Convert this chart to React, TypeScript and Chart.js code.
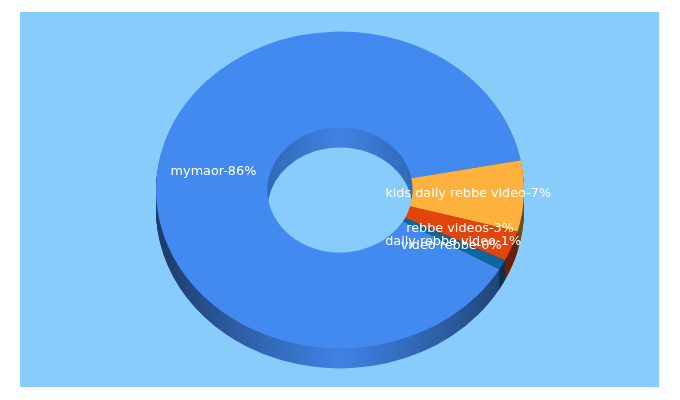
import { useEffect, useRef } from "react"
import { Chart, registerables, type Plugin } from "chart.js"

Chart.register(...registerables)

const labels = ["mymaor", "kids daily rebbe video", "rebbe videos", "daily rebbe video", "video rebbe"]
const shares = [86, 7, 3, 1, 0]
const colors = ["#4289f0", "#ffb13d", "#e2450b", "#0d669c", "#4289f0"]

const squash = 0.861
const depth = 20
// walls are stacked from the upper slices down, the big slice goes last
const wallOrder = [1, 2, 3, 4, 0]

function shade(hex: string, f: number) {
  const n = parseInt(hex.slice(1), 16)
  const c = (v: number) => Math.round(v * f)
  return `rgb(${c((n >> 16) & 255)},${c((n >> 8) & 255)},${c(n & 255)})`
}

// tilts the doughnut and stacks copies of each arc under it for the side wall
const tiltPlugin: Plugin<"doughnut"> = {
  id: "tilt",
  beforeDatasetsDraw(chart) {
    const ctx = chart.ctx
    const arcs = chart.getDatasetMeta(0).data as any[]
    const first = arcs[0]
    const left = first.x - first.outerRadius
    const right = first.x + first.outerRadius
    wallOrder.forEach((i) => {
      const arc = arcs[i]
      const grad = ctx.createLinearGradient(left, 0, right, 0)
      grad.addColorStop(0, shade(colors[i], 0.42))
      grad.addColorStop(0.2, shade(colors[i], 0.66))
      grad.addColorStop(0.32, shade(colors[i], 0.78))
      grad.addColorStop(0.5, shade(colors[i], 0.95))
      grad.addColorStop(0.68, shade(colors[i], 0.78))
      grad.addColorStop(0.8, shade(colors[i], 0.66))
      grad.addColorStop(1, shade(colors[i], 0.42))
      const baseOptions = arc.options
      arc.options = { ...baseOptions, backgroundColor: grad, borderWidth: 0 }
      for (let d = depth; d > 0; d--) {
        ctx.save()
        ctx.translate(0, first.y + d)
        ctx.scale(1, squash)
        ctx.translate(0, -first.y)
        arc.draw(ctx)
        ctx.restore()
      }
      arc.options = baseOptions
    })
    ctx.save()
    ctx.translate(0, first.y)
    ctx.scale(1, squash)
    ctx.translate(0, -first.y)
  },
  afterDatasetsDraw(chart) {
    const ctx = chart.ctx
    ctx.restore()
    const arcs = chart.getDatasetMeta(0).data as any[]
    ctx.save()
    ctx.font = "12.8px 'DejaVu Sans'"
    ctx.fillStyle = "#ffffff"
    ctx.textAlign = "center"
    ctx.textBaseline = "middle"
    arcs.forEach((arc, i) => {
      const p = arc.getCenterPoint()
      const y = arc.y + (p.y - arc.y) * squash
      ctx.fillText(`${labels[i]}-${shares[i]}%`, p.x, y)
    })
    ctx.restore()
  },
}

export default function App() {
  const canvasRef = useRef<HTMLCanvasElement>(null)

  useEffect(() => {
    if (!canvasRef.current) return
    const chart = new Chart(canvasRef.current, {
      type: "doughnut",
      data: {
        labels,
        datasets: [{ data: shares, backgroundColor: colors, borderWidth: 0, hoverOffset: 0 }],
      },
      options: {
        responsive: false,
        animation: false,
        rotation: 120,
        cutout: "39.5%",
        layout: { padding: { top: 6, bottom: 26 } },
        plugins: { legend: { display: false }, tooltip: { enabled: false } },
      },
      plugins: [tiltPlugin],
    })
    return () => chart.destroy()
  }, [])

  return (
    <div style={{ position: "fixed", inset: 0, background: "#ffffff" }}>
      <div style={{ position: "absolute", left: 20, top: 12, width: 639, height: 375, background: "#87ccfb" }} />
      <canvas ref={canvasRef} width={680} height={400} style={{ position: "absolute", left: 0, top: 0 }} />
    </div>
  )
}
